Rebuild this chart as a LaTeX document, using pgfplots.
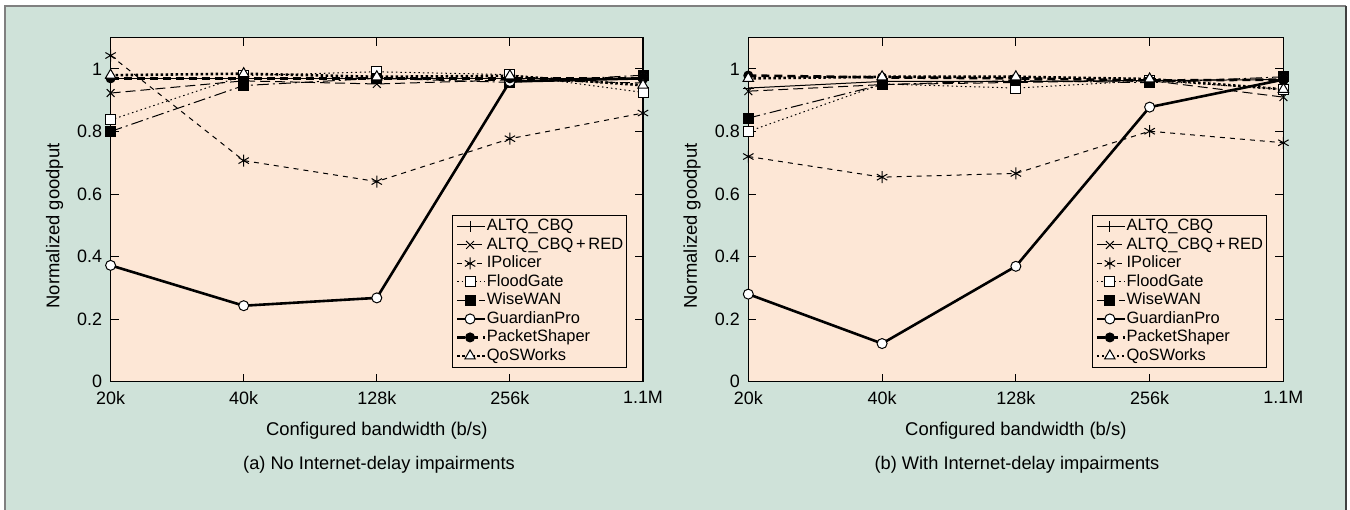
\documentclass[border=0pt]{standalone}
\usepackage{fontspec}
\setmainfont{Liberation Sans}
\usepackage{pgfplots}
\pgfplotsset{compat=1.18}
\definecolor{bgg}{RGB}{207,226,217}
\definecolor{plotbg}{RGB}{253,231,214}
\definecolor{framec}{RGB}{128,128,128}

\pgfplotstableread{
x altq altqred ipol flood wise guard packet qos
0 0.970 0.923 1.043 0.837 0.800 0.372 0.970 0.980
1 0.970 0.962 0.707 0.979 0.947 0.243 0.970 0.985
2 0.970 0.952 0.640 0.991 0.970 0.268 0.970 0.975
3 0.970 0.965 0.777 0.982 0.957 0.960 0.970 0.978
4 0.970 0.955 0.859 0.925 0.980 0.970 0.970 0.948
}\dataA

\pgfplotstableread{
x altq altqred ipol flood wise guard packet qos
0 0.939 0.929 0.720 0.800 0.843 0.280 0.979 0.970
1 0.960 0.950 0.654 0.952 0.950 0.122 0.973 0.975
2 0.960 0.957 0.666 0.939 0.963 0.369 0.970 0.975
3 0.963 0.963 0.801 0.963 0.956 0.878 0.963 0.968
4 0.966 0.910 0.764 0.935 0.975 0.966 0.966 0.935
}\dataB

\pgfplotsset{
  panel/.style={
    scale only axis, height=344bp,
    xmin=0, xmax=4, ymin=0, ymax=1.1,
    xtick={0,1,2,3,4}, xticklabels={20k,40k,128k,256k,1.1M},
    ytick={0,0.2,0.4,0.6,0.8,1}, yticklabels={0,0.2,0.4,0.6,0.8,1},
    tick align=inside, major tick length=8bp,
    tick style={black, line width=1bp},
    axis line style={black, line width=1.1bp},
    axis background/.style={fill=plotbg},
    clip=false,
    ticklabel style={font=\fontsize{18}{20}\selectfont},
    xticklabel style={yshift=-6bp},
    yticklabel style={xshift=-5bp},
    xlabel={Configured bandwidth (b/s)},
    ylabel={Normalized goodput},
    label style={font=\fontsize{18.5}{20}\selectfont},
    xlabel style={at={(axis description cs:0.5,0)}, anchor=base, yshift=-54bp},
    ylabel style={at={(axis description cs:-0.105,0.453)}, anchor=center},
    legend cell align=left,
    legend style={anchor=south east, fill=plotbg, draw=black, line width=0.8bp,
      font=\fontsize{16.5}{18}\selectfont, inner xsep=3bp, inner ysep=3bp,
      row sep=2bp, nodes={inner sep=0.5bp, text height=12bp, text depth=3.5bp}},
    legend image code/.code={\draw[mark repeat=2,mark phase=2] plot coordinates {(0bp,0bp)(13bp,0bp)(28bp,0bp)};},
  },
  sA/.style={black, line width=1bp, mark=+, mark size=5.5bp, mark options={solid}},
  sB/.style={black, line width=1bp, dash pattern=on 10bp off 5bp, mark=x, mark size=5.5bp, mark options={solid}},
  sC/.style={black, line width=1bp, dash pattern=on 5bp off 5bp, mark=asterisk, mark size=6bp, mark options={solid}},
  sD/.style={black, line width=1bp, dash pattern=on 1.5bp off 3bp, mark=square*, mark size=5bp, mark options={solid, fill=white}},
  sE/.style={black, line width=1bp, dash pattern=on 12bp off 4bp on 2bp off 4bp, mark=square*, mark size=5bp, mark options={solid, fill=black}},
  sF/.style={black, line width=2.6bp, mark=*, mark size=5bp, mark options={solid, fill=white, line width=1bp}},
  sG/.style={black, line width=2.6bp, dash pattern=on 8bp off 5bp, mark=*, mark size=4.5bp, mark options={solid, line width=1bp}},
  sH/.style={black, line width=2.6bp, dash pattern=on 2.5bp off 2.5bp, mark=triangle*, mark size=6bp, mark options={solid, fill=white, line width=1bp}},
}

\begin{document}
\begin{tikzpicture}
\useasboundingbox (0,0) rectangle (1350bp,510bp);
\fill[white] (0,0) rectangle (1350bp,510bp);
\fill[bgg] (5bp,0) rectangle (1346bp,504bp);
\draw[framec, line width=2bp] (5bp,0) -- (5bp,504bp) -- (1346bp,504bp);
\draw[black!75, line width=2bp] (1346bp,504bp) -- (1346bp,0);

\begin{axis}[panel, at={(110.6bp,128.3bp)}, anchor=south west, width=532.4bp,
  legend style={at={(rel axis cs:0.97,0.041)}}]
\addplot[sA] table[x=x,y=altq] {\dataA};
\addplot[sB] table[x=x,y=altqred] {\dataA};
\addplot[sC] table[x=x,y=ipol] {\dataA};
\addplot[sD] table[x=x,y=flood] {\dataA};
\addplot[sE] table[x=x,y=wise] {\dataA};
\addplot[sF] table[x=x,y=guard] {\dataA};
\addplot[sG] table[x=x,y=packet] {\dataA};
\addplot[sH] table[x=x,y=qos] {\dataA};
\legend{ALTQ\_CBQ, ALTQ\_CBQ\,+\,RED, IPolicer, FloodGate, WiseWAN, GuardianPro, PacketShaper, QoSWorks}
\end{axis}

\begin{axis}[panel, at={(748.3bp,128.3bp)}, anchor=south west, width=535.1bp,
  legend style={at={(rel axis cs:0.969,0.041)}}]
\addplot[sA] table[x=x,y=altq] {\dataB};
\addplot[sB] table[x=x,y=altqred] {\dataB};
\addplot[sC] table[x=x,y=ipol] {\dataB};
\addplot[sD] table[x=x,y=flood] {\dataB};
\addplot[sE] table[x=x,y=wise] {\dataB};
\addplot[sF] table[x=x,y=guard] {\dataB};
\addplot[sG] table[x=x,y=packet] {\dataB};
\addplot[sH] table[x=x,y=qos] {\dataB};
\legend{ALTQ\_CBQ, ALTQ\_CBQ\,+\,RED, IPolicer, FloodGate, WiseWAN, GuardianPro, PacketShaper, QoSWorks}
\end{axis}

\node[anchor=base, font=\fontsize{18.3}{20}\selectfont] at (379bp,40bp) {(a) No Internet-delay impairments};
\node[anchor=base, font=\fontsize{18.3}{20}\selectfont] at (1017bp,40bp) {(b) With Internet-delay impairments};
\end{tikzpicture}
\end{document}
